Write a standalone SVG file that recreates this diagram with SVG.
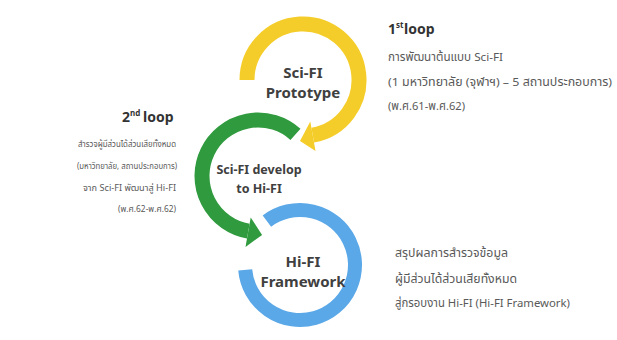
<svg xmlns="http://www.w3.org/2000/svg" width="617" height="340" viewBox="0 0 617 340">
<style>
.ring{fill:none;stroke-linecap:butt}
.y{stroke:#F5CD2A}
.g{stroke:#2F9A3E}
.b{stroke:#5AA8E8}
.lbl{font-family:"Noto Sans","Open Sans",sans-serif;font-weight:bold;fill:#404040;text-anchor:middle}
.hd{font-family:"Noto Sans","Open Sans",sans-serif;font-weight:bold;fill:#333333}
.th{font-family:"Noto Sans Thai","Noto Sans","DejaVu Sans",sans-serif;fill:#595959}
</style>
<rect width="617" height="340" fill="#ffffff"/>
<g id="connectors">
  <g id="loop1-arrow">
    <path class="ring y" stroke-width="15" d="M247,80 A56,56 0 1 1 312.72,135.15"/>
    <polygon fill="#F5CD2A" points="310.3,121.4 315.5,150.9 300,141"/>
  </g>
  <g id="loop2-arrow">
    <path class="ring g" stroke-width="15" d="M295.47,134.38 A56,56 0 1 0 248.28,231.15"/>
    <polygon fill="#2F9A3E" points="250.7,217.4 245.5,246.9 262.1,234.9"/>
  </g>
  <g id="loop3-ring">
    <path class="ring b" stroke-width="14" d="M266.9,221.08 A55,55 0 1 1 245.21,269.79"/>
  </g>
</g>
<g id="node-prototype">
  <text class="lbl" x="303" y="78" font-size="15">Sci-FI</text>
  <text class="lbl" x="303" y="98" font-size="15">Prototype</text>
</g>
<g id="node-develop">
  <text class="lbl" x="259" y="174" font-size="12.5">Sci-FI develop</text>
  <text class="lbl" x="259" y="193" font-size="12.5">to Hi-FI</text>
</g>
<g id="node-framework">
  <text class="lbl" x="303" y="267" font-size="15">Hi-FI</text>
  <text class="lbl" x="303" y="287" font-size="15">Framework</text>
</g>
<g id="note-loop1">
  <text class="hd" x="388" y="34" font-size="14">1</text>
  <text class="hd" x="396" y="28" font-size="8">st</text>
  <text class="hd" x="404" y="34" font-size="14">loop</text>
  <text class="th" x="388" y="61" font-size="11.5" textLength="115" lengthAdjust="spacingAndGlyphs">การพัฒนาต้นแบบ Sci-FI</text>
  <text class="th" x="388" y="86" font-size="11.5" textLength="224" lengthAdjust="spacingAndGlyphs">(1 มหาวิทยาลัย (จุฬาฯ) – 5 สถานประกอบการ)</text>
  <text class="th" x="388" y="110" font-size="11.5" textLength="77" lengthAdjust="spacingAndGlyphs">(พ.ศ.61-พ.ศ.62)</text>
</g>
<g id="note-loop2">
  <text class="hd" x="122" y="122" font-size="14">2</text>
  <text class="hd" x="130" y="116" font-size="8">nd</text>
  <text class="hd" x="143" y="122" font-size="14">loop</text>
  <text class="th" x="78" y="147" font-size="9" textLength="98" lengthAdjust="spacingAndGlyphs">สำรวจผู้มีส่วนได้ส่วนเสียทั้งหมด</text>
  <text class="th" x="77" y="169" font-size="9" textLength="100" lengthAdjust="spacingAndGlyphs">(มหาวิทยาลัย, สถานประกอบการ)</text>
  <text class="th" x="83" y="191" font-size="9" textLength="93" lengthAdjust="spacingAndGlyphs">จาก Sci-FI พัฒนาสู่ Hi-FI</text>
  <text class="th" x="118" y="212" font-size="9" textLength="58" lengthAdjust="spacingAndGlyphs">(พ.ศ.62-พ.ศ.62)</text>
</g>
<g id="note-framework">
  <text class="th" x="395" y="257" font-size="11.5" textLength="113" lengthAdjust="spacingAndGlyphs">สรุปผลการสำรวจข้อมูล</text>
  <text class="th" x="395" y="283" font-size="11.5" textLength="122" lengthAdjust="spacingAndGlyphs">ผู้มีส่วนได้ส่วนเสียทั้งหมด</text>
  <text class="th" x="395" y="307" font-size="11.5" textLength="175" lengthAdjust="spacingAndGlyphs">สู่กรอบงาน Hi-FI (Hi-FI Framework)</text>
</g>
</svg>
